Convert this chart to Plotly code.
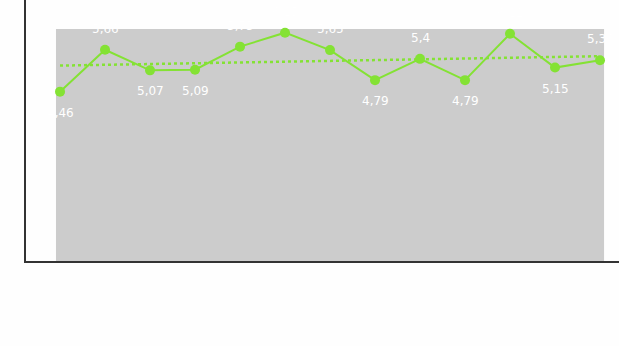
import numpy as np
import plotly.graph_objects as go

# data
values = [4.46, 5.66, 5.07, 5.09, 5.75, 6.15, 5.65, 4.79, 5.40, 4.79, 6.12, 5.15, 5.36]
label_pos = ["below", "above", "below", "below", "above", "above", "above",
             "below", "above", "below", "above", "below", "above"]
idx = list(range(len(values)))

green = "#84e234"

slope, intercept = np.polyfit(idx, values, 1)
trend = [intercept + slope * i for i in idx]

fig = go.Figure()
fig.add_trace(go.Scatter(x=idx, y=trend, mode="lines",
                         line=dict(color=green, width=2.5, dash="dot"),
                         hoverinfo="skip", showlegend=False))
fig.add_trace(go.Scatter(x=idx, y=values, mode="lines+markers",
                         line=dict(color=green, width=2),
                         marker=dict(color=green, size=10),
                         showlegend=False))

for i, v in enumerate(values):
    txt = f"{v:.2f}".rstrip("0").rstrip(".").replace(".", ",")
    fig.add_annotation(x=i, y=v, text=txt, showarrow=False,
                       yshift=21 if label_pos[i] == "above" else -21,
                       font=dict(color="white", size=12, family="DejaVu Sans"))

fig.add_shape(type="rect", xref="x", yref="paper", x0=-0.09, x1=12.09,
              y0=0, y1=0.889, fillcolor="#cccccc", line=dict(width=0),
              layer="below")

fig.update_xaxes(range=[-0.756, 12.422], showgrid=False, zeroline=False,
                 showticklabels=False, ticks="", showline=True,
                 linecolor="#333333", linewidth=1.5)
fig.update_yaxes(range=[-0.392, 7.086], showgrid=False, zeroline=False,
                 showticklabels=False, ticks="", showline=True,
                 linecolor="#333333", linewidth=1.5)
fig.update_layout(width=619, height=346,
                  margin=dict(l=26, r=0, t=0, b=85),
                  paper_bgcolor="#fefefe", plot_bgcolor="#fefefe")

fig.write_html("out.html")
